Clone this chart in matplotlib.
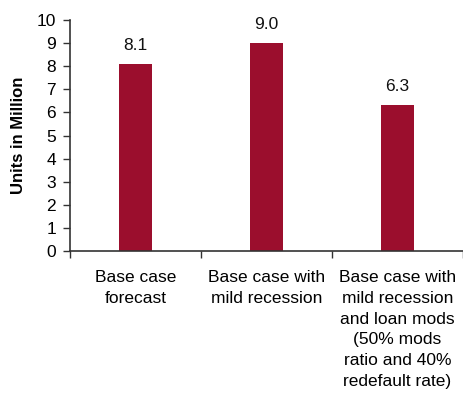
import matplotlib
matplotlib.use("Agg")
import matplotlib.pyplot as plt
import numpy as np

plt.rcParams['font.family'] = ['Liberation Sans', 'DejaVu Sans']

categories = [
    "Base case\nforecast",
    "Base case with\nmild recession",
    "Base case with\nmild recession\nand loan mods\n(50% mods\nratio and 40%\nredefault rate)",
]
values = [8.1, 9.0, 6.3]
value_labels = ["8.1", "9.0", "6.3"]
y_ticks = list(range(0, 11))

bar_color = "#9B0E2D"
axis_color = "#333333"

fig = plt.figure(figsize=(4.63, 3.98), dpi=100)
ax = fig.add_axes([70 / 463, 147 / 398, 393 / 463, 231 / 398])

x = np.arange(len(categories))
ax.bar(x, values, width=0.25, color=bar_color, zorder=2)

for xi, v, lab in zip(x, values, value_labels):
    ax.annotate(lab, (xi, v), xytext=(0, 8), textcoords="offset points",
                ha="center", va="bottom", fontsize=12.5, color="#111111")

ax.set_xlim(-0.5, len(categories) - 0.5)
ax.set_ylim(0, 10)
ax.set_yticks(y_ticks)
ax.tick_params(axis="y", direction="out", length=5, width=1, color=axis_color,
               labelsize=12.5, pad=5)

# category labels at centres, tick marks at category boundaries
ax.set_xticks(x)
ax.set_xticklabels(categories, fontsize=12.5, linespacing=1.47)
ax.tick_params(axis="x", which="major", length=0, pad=14)
ax.set_xticks(np.arange(-0.5, len(categories)), minor=True)
ax.tick_params(axis="x", which="minor", direction="out", length=5, width=1,
               color=axis_color)
for t in ax.get_xticklabels():
    t.set_va("top")
    t.set_ha("center")

for side in ("top", "right"):
    ax.spines[side].set_visible(False)
for side in ("left", "bottom"):
    ax.spines[side].set_color(axis_color)
    ax.spines[side].set_linewidth(1.2)

ax.set_ylabel("Units in Million", fontsize=12, fontweight="bold", labelpad=8)

fig.savefig("out.png", dpi=100)
